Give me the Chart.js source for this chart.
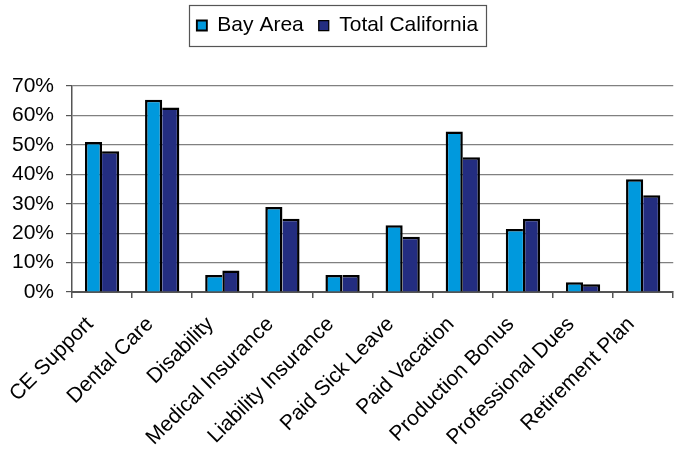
<!DOCTYPE html>
<html>
<head>
<meta charset="utf-8">
<script src="https://cdn.jsdelivr.net/npm/chart.js@4/dist/chart.umd.min.js"></script>
<style>
  html, body { margin: 0; padding: 0; background: #fff; }
  #wrap { width: 675px; height: 452px; }
</style>
</head>
<body>
<div id="wrap"><canvas id="benefits-chart"></canvas></div>
<script>
// Chart data
const categories = ['CE Support', 'Dental Care', 'Disability', 'Medical Insurance', 'Liability Insurance',
    'Paid Sick Leave', 'Paid Vacation', 'Production Bonus', 'Professional Dues', 'Retirement Plan'];
const bayArea = [51, 65.3, 5.8, 28.9, 5.8, 22.7, 54.5, 21.4, 3.3, 38.3];
const totalCalifornia = [47.8, 62.7, 7.3, 24.9, 5.8, 18.8, 45.8, 24.9, 2.6, 32.9];
const yTicks = [0, 10, 20, 30, 40, 50, 60, 70];

const FONT = 'Arial, "Liberation Sans", sans-serif';
const EDGE = 2.5;

// Stretch the legend block so the plot starts lower, and frame it with a box
const legendBox = {
    id: 'legendBox',
    beforeInit(chart) {
        const fit = chart.legend.fit;
        chart.legend.fit = function () {
            fit.bind(this)();
            this.height += 40;
        };
    },
    afterDraw(chart) {
        const boxes = chart.legend.legendHitBoxes;
        if (!boxes || !boxes.length) return;
        const left = Math.min(...boxes.map(b => b.left)) - 8;
        const right = Math.max(...boxes.map(b => b.left + b.width)) + 8;
        const ctx = chart.ctx;
        ctx.save();
        ctx.strokeStyle = '#555';
        ctx.lineWidth = 1.2;
        ctx.strokeRect(Math.round(left) + 0.5, 5.5, Math.round(right - left), 41);
        ctx.restore();
    }
};

// The two bars of a group share one divider line: the taller bar draws it
const sideBorder = (own, other, side) => ctx => {
    const i = ctx.dataIndex;
    const w = { top: EDGE, left: EDGE, right: EDGE, bottom: 0 };
    if (own[i] > other[i] || (own[i] === other[i] && side === 'right')) {
        return w;
    }
    w[side] = 0;
    return w;
};

const ctx = document.getElementById('benefits-chart').getContext('2d');
new Chart(ctx, {
    type: 'bar',
    data: {
        labels: categories,
        datasets: [
            {
                label: 'Bay Area',
                data: bayArea,
                backgroundColor: '#0099dd',
                borderColor: '#000',
                borderWidth: sideBorder(bayArea, totalCalifornia, 'right')
            },
            {
                label: 'Total California',
                data: totalCalifornia,
                backgroundColor: '#232d80',
                borderColor: '#000',
                borderWidth: sideBorder(totalCalifornia, bayArea, 'left')
            }
        ]
    },
    options: {
        responsive: true,
        maintainAspectRatio: false,
        animation: false,
        layout: { padding: { left: 0, right: 0, top: 0, bottom: 0 } },
        datasets: {
            bar: { categoryPercentage: 0.57, barPercentage: 1, borderSkipped: false }
        },
        scales: {
            x: {
                afterFit(axis) {
                    axis.height = 160;
                },
                grid: {
                    offset: true,
                    drawOnChartArea: false,
                    drawTicks: true,
                    tickLength: 6,
                    color: '#555',
                    lineWidth: 1.5
                },
                border: { color: '#555', width: 2 },
                ticks: {
                    color: '#000',
                    font: { family: FONT, size: 21 },
                    minRotation: 45,
                    maxRotation: 45,
                    padding: 14,
                    labelOffset: -12
                }
            },
            y: {
                min: 0,
                max: 70,
                afterFit(axis) {
                    axis.width = 72;
                },
                afterBuildTicks(axis) {
                    axis.ticks = yTicks.map(v => ({ value: v }));
                },
                grid: {
                    color: '#808080',
                    lineWidth: 1.2,
                    tickLength: 6,
                    tickColor: '#555'
                },
                border: { color: '#555', width: 1.5 },
                ticks: {
                    color: '#000',
                    font: { family: FONT, size: 21 },
                    padding: 12,
                    callback: v => v + '%'
                }
            }
        },
        plugins: {
            legend: {
                position: 'top',
                labels: {
                    color: '#000',
                    font: { family: FONT, size: 21 },
                    boxWidth: 10,
                    boxHeight: 10,
                    padding: 15
                }
            },
            tooltip: { enabled: false }
        }
    },
    plugins: [legendBox]
});
</script>
</body>
</html>
